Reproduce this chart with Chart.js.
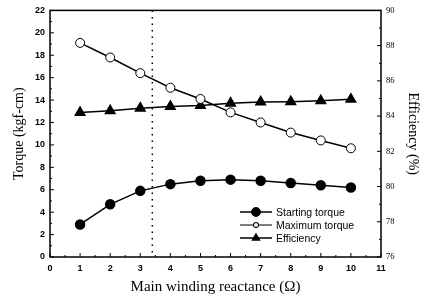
<!DOCTYPE html>
<html>
<head>
<meta charset="utf-8">
<script src="https://cdn.jsdelivr.net/npm/chart.js@4/dist/chart.umd.min.js"></script>
<style>
body { margin: 0; background: #fff; }
</style>
</head>
<body>
<canvas id="myChart" width="421" height="296"></canvas>
<script>
const reactance = [1, 2, 3, 4, 5, 6, 7, 8, 9, 10];
const startingTorque = [2.9, 4.7, 5.9, 6.5, 6.8, 6.9, 6.8, 6.6, 6.4, 6.2];
const maximumTorque = [19.1, 17.8, 16.4, 15.1, 14.1, 12.9, 12.0, 11.1, 10.4, 9.7];
const efficiency = [84.2, 84.3, 84.45, 84.55, 84.6, 84.73, 84.8, 84.82, 84.87, 84.95];
const seriesNames = ['Starting torque', 'Maximum torque', 'Efficiency'];
const markerX = 3.4;

const pts = (ys) => reactance.map((x, i) => ({ x: x, y: ys[i] }));

// inner ticks, frame, dotted line and the legend inside the plot
const decorations = {
    id: 'decorations',
    afterDraw(chart) {
        const c = chart.ctx;
        const a = chart.chartArea;
        const sx = chart.scales.x, sy = chart.scales.y, sy1 = chart.scales.y1;
        c.save();
        c.strokeStyle = '#000';
        c.lineWidth = 1.5;
        c.strokeRect(a.left, a.top, a.right - a.left, a.bottom - a.top);

        c.lineWidth = 1;
        c.beginPath();
        for (let v = 0; v <= 11; v += 0.5) {
            const px = sx.getPixelForValue(v);
            const len = v % 1 === 0 ? 4 : 2;
            c.moveTo(px, a.bottom); c.lineTo(px, a.bottom - len);
        }
        for (let v = 0; v <= 22; v += 1) {
            const py = sy.getPixelForValue(v);
            const len = v % 2 === 0 ? 4 : 2;
            c.moveTo(a.left, py); c.lineTo(a.left + len, py);
        }
        for (let v = 76; v <= 90; v += 1) {
            const py = sy1.getPixelForValue(v);
            const len = v % 2 === 0 ? 4 : 2;
            c.moveTo(a.right, py); c.lineTo(a.right - len, py);
        }
        c.stroke();

        // dotted marker
        const mx = sx.getPixelForValue(markerX);
        c.setLineDash([1.5, 5]);
        c.lineWidth = 1.5;
        c.beginPath();
        c.moveTo(mx, a.top); c.lineTo(mx, a.bottom);
        c.stroke();
        c.setLineDash([]);

        // legend
        c.font = '10.5px Arial, "Liberation Sans", sans-serif';
        c.textBaseline = 'middle';
        c.fillStyle = '#000';
        chart.data.datasets.forEach((ds, i) => {
            const y = a.bottom - 45 + i * 13;
            const x0 = a.right - 141;
            c.lineWidth = i === 1 ? 1 : 1.5;
            c.beginPath();
            c.moveTo(x0, y); c.lineTo(x0 + 32, y);
            c.stroke();
            Chart.helpers.drawPoint(c, {
                pointStyle: ds.pointStyle,
                radius: i === 1 ? 2.5 : 4,
                borderWidth: 1
            }, x0 + 16, y);
            c.fillStyle = ds.pointBackgroundColor;
            c.beginPath();
            if (ds.pointStyle === 'circle') c.arc(x0 + 16, y, i === 1 ? 2.5 : 4, 0, Math.PI * 2);
            c.fill();
            c.stroke();
            c.fillStyle = '#000';
            c.fillText(ds.label, x0 + 36, y + 1);
        });
        c.restore();
    }
};

const ctx = document.getElementById('myChart');
const myChart = new Chart(ctx, {
    type: 'line',
    data: {
        datasets: [{
            label: seriesNames[0],
            data: pts(startingTorque),
            yAxisID: 'y',
            borderColor: '#000',
            borderWidth: 1.5,
            pointStyle: 'circle',
            pointRadius: 4.5,
            pointBackgroundColor: '#000',
            pointBorderColor: '#000'
        }, {
            label: seriesNames[1],
            data: pts(maximumTorque),
            yAxisID: 'y',
            borderColor: '#000',
            borderWidth: 1.5,
            pointStyle: 'circle',
            pointRadius: 4.5,
            pointBackgroundColor: '#fff',
            pointBorderColor: '#000',
            pointBorderWidth: 1
        }, {
            label: seriesNames[2],
            data: pts(efficiency),
            yAxisID: 'y1',
            borderColor: '#000',
            borderWidth: 1.5,
            pointStyle: 'triangle',
            pointRadius: 5.5,
            pointBackgroundColor: '#000',
            pointBorderColor: '#000'
        }]
    },
    options: {
        responsive: false,
        animation: false,
        layout: { padding: { top: 10, left: 0, right: 0, bottom: 0 } },
        plugins: {
            legend: { display: false },
            tooltip: { enabled: false }
        },
        scales: {
            x: {
                type: 'linear',
                min: 0,
                max: 11,
                afterFit(s) { s.height = 39; },
                grid: { display: false, drawTicks: false },
                border: { display: false },
                ticks: {
                    stepSize: 1,
                    padding: 6,
                    color: '#000',
                    font: { family: 'Arial, "Liberation Sans", sans-serif', size: 9, weight: 'bold' }
                },
                title: {
                    display: true,
                    text: 'Main winding reactance (\u03A9)',
                    color: '#000',
                    padding: { top: 0, bottom: 0 },
                    font: { family: '"Liberation Serif", "Times New Roman", serif', size: 15 }
                }
            },
            y: {
                position: 'left',
                min: 0,
                max: 22,
                afterFit(s) { s.width = 50; },
                grid: { display: false, drawTicks: false },
                border: { display: false },
                ticks: {
                    stepSize: 2,
                    padding: 5,
                    color: '#000',
                    font: { family: 'Arial, "Liberation Sans", sans-serif', size: 9, weight: 'bold' }
                },
                title: {
                    display: true,
                    text: 'Torque (kgf-cm)',
                    color: '#000',
                    padding: { top: 11, bottom: 0 },
                    font: { family: '"Liberation Serif", "Times New Roman", serif', size: 14 }
                }
            },
            y1: {
                position: 'right',
                min: 76,
                max: 90,
                afterFit(s) { s.width = 40; },
                grid: { display: false, drawTicks: false },
                border: { display: false },
                ticks: {
                    stepSize: 2,
                    padding: 5,
                    color: '#000',
                    font: { family: '"Liberation Serif", "Times New Roman", serif', size: 8.5 }
                },
                title: {
                    display: true,
                    text: 'Efficiency (%)',
                    color: '#000',
                    padding: { top: 0, bottom: 0 },
                    font: { family: '"Liberation Serif", "Times New Roman", serif', size: 14 }
                }
            }
        }
    },
    plugins: [decorations]
});
</script>
</body>
</html>
